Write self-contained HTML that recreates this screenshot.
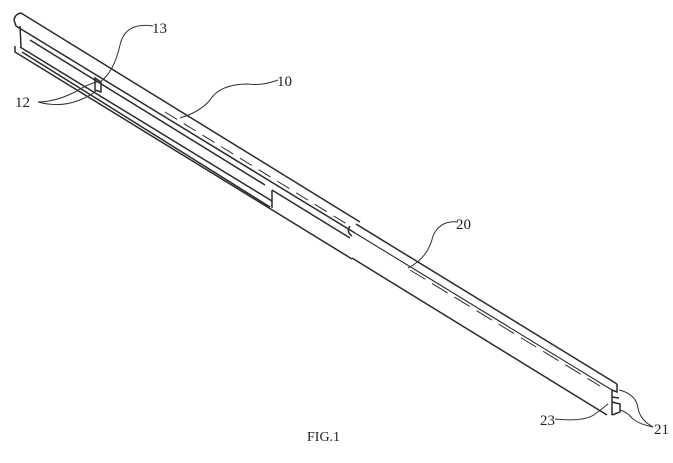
<!DOCTYPE html>
<html><head><style>
html,body{margin:0;padding:0;background:#fff;}
svg{display:block}
text{font-family:"Liberation Serif",serif;fill:#222}
</style></head><body>
<svg width="673" height="463" viewBox="0 0 673 463" xmlns="http://www.w3.org/2000/svg">
<g stroke="#2a2a2a" stroke-width="1.5" fill="none">
<path d="M14,20 Q15,14 21,13 L360,222"/>
<path d="M14,20 L16,26 L355,233"/>
<path d="M20,26 L21,47"/>
<path d="M15,46 L15,52 L352,259"/>
<path d="M20,47 L272,201"/>
<path d="M22,52 L270,207"/>
<path d="M272,190 L272,208"/>
<path d="M272,190 L350,238"/>
<path d="M350,226 Q346,232 352,236"/>
<path d="M30,40 L265,185"/>
<path d="M165,112 L350,226" stroke-dasharray="14,8" stroke-width="1"/>
<path d="M356,224 L617,384"/>
<path d="M355,233 L612,390" stroke-width="1.1"/>
<path d="M352,258 L607,415"/>
<path d="M612,390 L612,415"/>
<path d="M617,384 L617,392 L612,390"/>
<path d="M612,397 L619,398 M612,402 L620,404 L620,412 L612,415"/>
<path d="M410,270 L600,386" stroke-dasharray="18,8" stroke-width="1"/>
<path d="M95,78 L101,82 L101,92 L95,90 Z"/>
</g>
<g stroke="#333" stroke-width="1" fill="none">
<path d="M153,26 Q125,22 120,45 Q114,72 100,82"/>
<path d="M38,102 Q55,102 75,92 Q88,84 97,82"/>
<path d="M38,102 Q60,108 80,100 Q92,95 97,90"/>
<path d="M278,80 Q262,86 248,84 Q220,84 210,100 Q200,112 180,118"/>
<path d="M458,222 Q440,220 433,236 Q428,258 408,268"/>
<path d="M555,419 Q585,422 595,414 Q603,408 608,404"/>
<path d="M653,427 Q640,420 638,408 Q636,394 619,390"/>
<path d="M653,427 Q638,424 632,418 Q627,412 620,410"/>
</g>
<text x="152" y="33" font-size="15">13</text>
<text x="15" y="107" font-size="15">12</text>
<text x="277" y="86" font-size="15">10</text>
<text x="456" y="229" font-size="15">20</text>
<text x="540" y="425" font-size="15">23</text>
<text x="654" y="434" font-size="15">21</text>
<text x="307" y="441" font-size="14">FIG.1</text>
</svg>
</body></html>
